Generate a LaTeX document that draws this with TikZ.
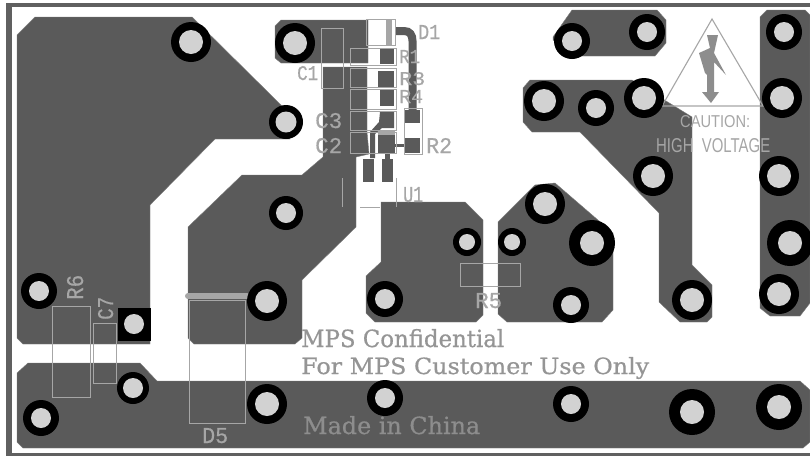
\documentclass[tikz,border=0pt]{standalone}
\usepackage{graphicx}
\usepackage{fontspec}
\setmainfont{Liberation Serif}
\setsansfont{Liberation Sans}
\newfontfamily\silkfont[FakeBold=0.5]{Liberation Mono}
\newfontfamily\slabfont[FakeBold=0.6]{DejaVu Serif}
\definecolor{copper}{HTML}{5A5A5A}
\definecolor{silk}{HTML}{A6A6A6}
\definecolor{drill}{HTML}{D2D2D2}
\definecolor{frame}{HTML}{606060}
\tikzset{
  trace/.style={fill=copper,draw=copper!80!white,line width=.4pt},
  outline/.style={draw=silk,line width=1pt},
  boardtext/.style={inner sep=0pt,anchor=base west,text=silk},
  slabtext/.style={inner sep=0pt,anchor=base west,text=silk!90!black},
  darktext/.style={inner sep=0pt,anchor=base west,text=silk!85!black}
}
% name, style, x, baseline y, width, height, rotation, text
\newcommand\boardlabel[8]{\node[#2,rotate=#7] (#1) at (#3,#4) {\resizebox{#5pt}{#6pt}{#8}};}
\begin{document}
\begin{tikzpicture}[x=1pt,y=-1pt]
\useasboundingbox (0,0) rectangle (810,456);
\fill[white] (0,0) rectangle (810,456);
% board frame
\fill[frame] (6,3) rectangle (810,7);
\fill[frame] (6,3) rectangle (12,456);
\fill[frame] (6,453) rectangle (810,456);
% copper
\path[trace] (17,35)--(35,17)--(192,17)--(283,107)--(290,139)--(215,139)--(150,205)--(150,344)--(23,344)--(17,338)--cycle;
\path[trace] (275,26)--(281,20)--(368,20)--(368,63)--(281,63)--(275,58)--cycle;
\path[trace] (188,227)--(242,175)--(302,175)--(323,157)--(323,67)--(367,67)--(367,132)--(369,154)--(356,157)--(356,227)--(302,280)--(302,338)--(295,344)--(194,344)--(188,338)--cycle;
\path[trace] (381,202)--(465,202)--(483,220)--(483,315)--(476,322)--(375,322)--(366,313)--(366,276)--(381,262)--cycle;
\path[trace] (498,222)--(535,185)--(555,183)--(613,233)--(613,310)--(602,322)--(507,322)--(498,314)--cycle;
\path[trace] (17,373)--(28,363)--(140,363)--(157,381)--(800,381)--(810,390)--(810,442)--(803,448)--(23,448)--(17,442)--cycle;
\path[trace] (572,10)--(657,10)--(666,20)--(666,43)--(655,56)--(572,56)--(553,40)--(553,37)--cycle;
\path[trace] (523,88)--(530,80)--(632,80)--(692,117)--(692,265)--(712,285)--(712,317)--(707,322)--(680,322)--(659,302)--(659,213)--(580,132)--(532,132)--(523,122)--cycle;
\path[trace] (760,17)--(767,10)--(805,10)--(810,15)--(810,303)--(800,316)--(770,316)--(760,308)--cycle;
% small pads
\foreach \a/\b/\c/\d in {380/48/394/64,378/71/394/87,380/90/394/106,378/133/395/153,405/110/420/123,405/138/420/153,363/159/374/182,382/159/393/182,385/153/390/160}
  \fill[copper] (\a,\b) rectangle (\c,\d);
\fill[copper] (380,112)--(394,112)--(394,128)--(382,128)--(375,134)--(375,158)--(370,158)--(370,132)--(379,122)--cycle;
\coordinate (d1start) at (395,31);
\coordinate (r2top) at (412.5,110);
\draw[copper,line width=8pt] (d1start)--(404,31) .. controls (410,31) and (412.5,35) .. (412.5,41)--(r2top);
\draw[copper,line width=3pt] (395,145.5)--(405,145.5);
% silk outlines
\foreach \a/\b/\c/\d in {321/28/343/88,350/48/396/65,350/68/396/87,350/89/396/109,350/111/396/130,350/132/396/153,404/108/422/154,366/19/395/45,52/306/90/397,93/323/116/383,189/300/245/423,460/263/520/286}
  \draw[outline] (\a,\b) rectangle (\c,\d);
\fill[silk] (386,19) rectangle (392,45);
\fill[silk] (378,131) rectangle (395,135);
\draw[silk,line width=6pt,line cap=round] (188,296)--(247,296);
\draw[outline] (342,178)--(342,207);
\draw[outline] (396,178)--(396,207);
\draw[outline] (360,207)--(380,207);
% warning sign
\draw[silk,line width=1.1pt] (712,19)--(662,106)--(763,106)--cycle;
\fill[silk!85!black] (707,35)--(718,35)--(714,53)--(726,75)--(714,62)--(714,92)--(719,92)--(711,103)--(702,92)--(707,92)--(707,75)--(705,73)--(699,53)--(710,48)--cycle;
% vias
\foreach \x/\y/\r/\i in {191/42/20/12,295/43/20/12,286/122/17/10.5,286/213/17/10,39/291/18/10,133/388/16/10,41/418/18/10,267/301/20/12,267/404/20/12,385/299/18/10,467/242/14/8,512/242/14/8,545/204/20/12,592/243/23/12,571/305/18/10,385/398/18/10,571/404/18/10,692/300/20/12,779/294/20/12,790/243/23/12,692/412/23/12,779/407/23/12,572/41/18/10,647/32/18/10,544/101/20/12,596/108/18/10,644/98/20/12,653/176/20/12,784/32/18/10,782/98/20/12,779/176/20/12}{
  \fill[black] (\x,\y) circle[radius=\r];
  \fill[drill] (\x,\y) circle[radius=\i];
}
\fill[black] (118,308) rectangle (151,341);
\fill[drill] (134,324) circle[radius=10];
% labels
\silkfont
\boardlabel{tD1}{boardtext}{418}{39}{22}{14}{0}{D1}
\boardlabel{tR1}{boardtext}{399}{63}{21}{13}{0}{R1}
\boardlabel{tR3}{boardtext}{399}{85}{26}{13}{0}{R3}
\boardlabel{tR4}{boardtext}{399}{103}{24}{13}{0}{R4}
\boardlabel{tR2}{boardtext}{426}{153}{26}{15}{0}{R2}
\boardlabel{tC1}{boardtext}{297}{80}{21}{14}{0}{C1}
\boardlabel{tC3}{boardtext}{315}{128}{27}{15}{0}{C3}
\boardlabel{tC2}{boardtext}{315}{153}{27}{15}{0}{C2}
\boardlabel{tU1}{boardtext}{403}{202}{20}{15}{0}{U1}
\boardlabel{tR6}{boardtext}{83}{300}{25}{16}{90}{R6}
\boardlabel{tC7}{boardtext}{113}{320}{23}{15}{90}{C7}
\boardlabel{tD5}{boardtext}{202}{443}{26}{15}{0}{D5}
\boardlabel{tR5}{boardtext}{475}{308}{27}{15}{0}{R5}
\sffamily
\boardlabel{tCaution}{boardtext}{680}{127}{70}{12}{0}{CAUTION:}
\boardlabel{tHigh}{boardtext}{656}{152}{114}{14}{0}{HIGH\ \ VOLTAGE}
\slabfont
\boardlabel{tConf}{slabtext}{301}{347}{203}{18}{0}{MPS\ Confidential}
\boardlabel{tUse}{slabtext}{301}{374}{348}{17}{0}{For\ MPS\ Customer\ Use\ Only}
\boardlabel{tMade}{darktext}{303}{434}{177}{18}{0}{Made\ in\ China}
\end{tikzpicture}
\end{document}
